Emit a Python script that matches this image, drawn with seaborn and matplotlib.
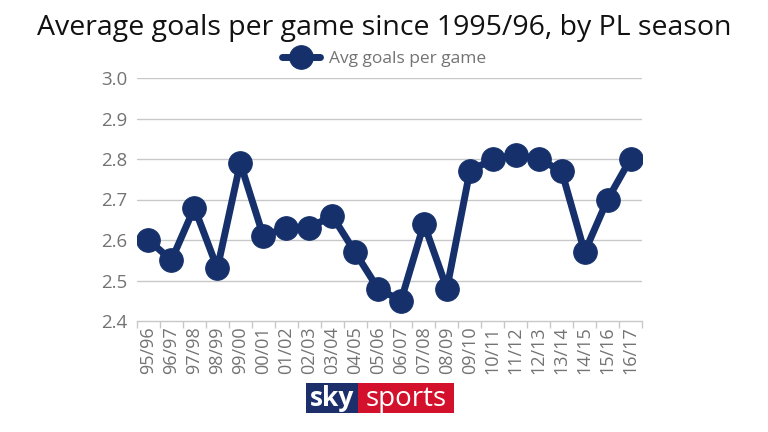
import matplotlib
matplotlib.use("Agg")
import matplotlib.pyplot as plt
import seaborn as sns
import pandas as pd
import numpy as np
from matplotlib.patches import Rectangle

seasons = ["95/96", "96/97", "97/98", "98/99", "99/00", "00/01", "01/02", "02/03",
           "03/04", "04/05", "05/06", "06/07", "07/08", "08/09", "09/10", "10/11",
           "11/12", "12/13", "13/14", "14/15", "15/16", "16/17"]
avg_goals = [2.60, 2.55, 2.68, 2.53, 2.79, 2.61, 2.63, 2.63, 2.66, 2.57, 2.48,
             2.45, 2.64, 2.48, 2.77, 2.80, 2.81, 2.80, 2.77, 2.57, 2.70, 2.80]
y_ticks = [2.4, 2.5, 2.6, 2.7, 2.8, 2.9, 3.0]
series_name = "Avg goals per game"
title = "Average goals per game since 1995/96, by PL season"

sns.set_theme(style="white")
plt.rcParams['font.family'] = ['Open Sans', 'DejaVu Sans']

navy = "#15306b"
grid_c = "#c8c8c8"
label_c = "#737373"

df = pd.DataFrame({"season": seasons, "goals": avg_goals})
df["pos"] = np.arange(len(seasons))

fig = plt.figure(figsize=(7.68, 4.32), dpi=100)
ax = fig.add_axes([137/768, 1-321/432, (642-137)/768, (321-78)/432])

sns.lineplot(data=df, x="pos", y="goals", ax=ax, color=navy, linewidth=5,
             marker="o", markersize=17, markeredgecolor=navy, label=series_name,
             legend=False)

ax.set_ylim(2.4, 3.0)
ax.set_xlim(-0.5, len(seasons) - 0.5)
ax.set_yticks(y_ticks)
ax.set_yticklabels([f"{v:.1f}" for v in y_ticks], color=label_c, fontsize=13.5)
ax.set_xticks(df["pos"])
ax.set_xticklabels(seasons, rotation=90, color=label_c, fontsize=13)
ax.set_xticks(np.arange(-0.5, len(seasons)), minor=True)
ax.tick_params(axis="x", which="major", length=0, pad=4)
ax.tick_params(axis="x", which="minor", length=5, color=grid_c, width=1, bottom=True)
ax.tick_params(axis="y", length=0, pad=7)
for y in y_ticks[1:]:
    ax.axhline(y, color=grid_c, linewidth=1, zorder=0)
for s in ["top", "right", "left"]:
    ax.spines[s].set_visible(False)
ax.spines["bottom"].set_color(grid_c)
ax.spines["bottom"].set_linewidth(1)
ax.set_xlabel("")
ax.set_ylabel("")

fig.text(0.5, 1-28/432, title, ha="center", va="center", fontsize=20.5, color="#111111")

handles, labels = ax.get_legend_handles_labels()
leg = fig.legend(handles, labels, loc="center", bbox_to_anchor=(0.5, 1-59/432),
                 frameon=False, fontsize=12.5, handlelength=2.2, handletextpad=0.5,
                 labelcolor=label_c)

# Sky Sports logo
fig.patches.append(Rectangle((306/768, 1-413/432), 52/768, 30/432,
                             transform=fig.transFigure, facecolor="#1c2f6b", edgecolor="none"))
fig.patches.append(Rectangle((358/768, 1-413/432), 96/768, 30/432,
                             transform=fig.transFigure, facecolor="#d3112c", edgecolor="none"))
fig.text(332/768, 1-399/432, "sky", ha="center", va="center", fontsize=19,
         fontweight="bold", color="white")
fig.text(406/768, 1-399/432, "sports", ha="center", va="center", fontsize=20,
         color="white")

fig.savefig("out.png", dpi=100)
